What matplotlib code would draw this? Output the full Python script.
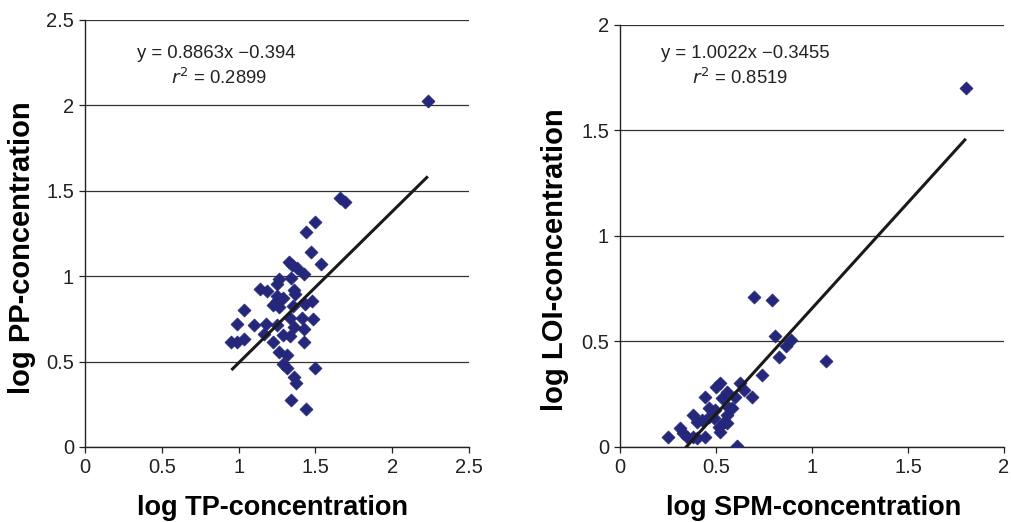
import matplotlib
matplotlib.use("Agg")
import matplotlib.pyplot as plt
import numpy as np

plt.rcParams['font.family'] = ['Liberation Sans', 'DejaVu Sans']

# ---- Left panel data: log TP vs log PP ----
tp_x = [1.658, 1.690, 1.500, 1.436, 1.469, 1.534, 1.330, 1.350, 1.377, 1.423,
        1.338, 1.266, 1.253, 1.136, 1.188, 1.358, 1.364, 1.253, 1.286, 1.247,
        1.475, 1.430, 1.227, 1.266, 1.351, 1.038, 1.332, 1.410, 1.482, 0.992,
        1.103, 1.181, 1.247, 1.358, 1.423, 1.168, 1.286, 1.332, 0.953, 0.992,
        1.038, 1.227, 1.423, 1.266, 1.312, 1.286, 1.312, 1.500, 1.358, 1.371,
        1.338, 1.436, 2.232]
pp_y = [1.457, 1.433, 1.317, 1.259, 1.142, 1.072, 1.084, 1.066, 1.049, 1.014,
        0.991, 0.985, 0.956, 0.927, 0.915, 0.921, 0.897, 0.886, 0.874, 0.857,
        0.857, 0.839, 0.833, 0.822, 0.828, 0.804, 0.758, 0.758, 0.752, 0.723,
        0.717, 0.723, 0.717, 0.705, 0.688, 0.664, 0.658, 0.647, 0.612, 0.612,
        0.635, 0.612, 0.612, 0.554, 0.536, 0.484, 0.460, 0.460, 0.408, 0.373,
        0.274, 0.221, 2.028]
left_slope, left_icept = 0.8863, -0.394

# ---- Right panel data: log SPM vs log LOI ----
spm_x = [0.700, 0.789, 0.806, 0.862, 0.888, 0.827, 1.072, 0.737, 0.499, 0.522,
         0.627, 0.644, 0.557, 0.688, 0.600, 0.443, 0.530, 0.565, 0.583, 0.461,
         0.496, 0.382, 0.557, 0.461, 0.487, 0.400, 0.426, 0.539, 0.557, 0.513,
         0.522, 0.313, 0.330, 0.347, 0.382, 0.400, 0.443, 0.248, 0.609, 1.801]
loi_y = [0.708, 0.698, 0.525, 0.478, 0.506, 0.427, 0.407, 0.340, 0.285, 0.301,
         0.304, 0.270, 0.262, 0.238, 0.235, 0.238, 0.230, 0.183, 0.183, 0.183,
         0.175, 0.151, 0.151, 0.143, 0.136, 0.120, 0.128, 0.120, 0.112, 0.096,
         0.072, 0.088, 0.065, 0.049, 0.049, 0.041, 0.046, 0.046, 0.006, 1.702]
right_slope, right_icept = 1.0022, -0.3455

left_xticks = [0, 0.5, 1, 1.5, 2, 2.5]
left_yticks = [0, 0.5, 1, 1.5, 2, 2.5]
right_xticks = [0, 0.5, 1, 1.5, 2]
right_yticks = [0, 0.5, 1, 1.5, 2]

MARKER_COLOR = '#24277a'

fig = plt.figure(figsize=(10.11, 5.22), dpi=100)
axL = fig.add_axes([0.0841, 0.1437, 0.3798, 0.818])
axR = fig.add_axes([0.6133, 0.1437, 0.3798, 0.809])


def style(ax, xt, yt, xlabel, ylabel, xlab_pos, ylab_pos):
    ax.set_xlim(xt[0], xt[-1])
    ax.set_ylim(yt[0], yt[-1])
    ax.set_xticks(xt)
    ax.set_yticks(yt)
    ax.set_xticklabels([f'{v:g}' for v in xt])
    ax.set_yticklabels([f'{v:g}' for v in yt])
    for s in ['top', 'right']:
        ax.spines[s].set_visible(False)
    for s in ['left', 'bottom']:
        ax.spines[s].set_color('#222222')
        ax.spines[s].set_linewidth(1.0)
    ax.yaxis.grid(True, color='#333333', linewidth=0.9)
    ax.set_axisbelow(True)
    ax.tick_params(axis='both', direction='out', length=4, width=0.9,
                   labelsize=14.5, colors='#222222', pad=4)
    ax.set_xlabel(xlabel, fontsize=19.5, fontweight='bold', va='center')
    ax.set_ylabel(ylabel, fontsize=21, fontweight='bold', va='center')
    ax.xaxis.set_label_coords(*xlab_pos)
    ax.yaxis.set_label_coords(*ylab_pos)


def panel(ax, x, y, slope, icept):
    ax.scatter(x, y, marker='D', s=44, color=MARKER_COLOR,
               edgecolors=MARKER_COLOR, linewidths=0.5, zorder=3)
    xs = np.array([min(x), max(x)])
    ax.plot(xs, slope * xs + icept, color='#1a1a1a', linewidth=2.2, zorder=4,
            solid_capstyle='butt')


panel(axL, tp_x, pp_y, left_slope, left_icept)
panel(axR, spm_x, loi_y, right_slope, right_icept)

style(axL, left_xticks, left_yticks, 'log TP-concentration', 'log PP-concentration',
      (0.487, -0.143), (-0.164, 0.466))
style(axR, right_xticks, right_yticks, 'log SPM-concentration', 'log LOI-concentration',
      (0.503, -0.144), (-0.169, 0.443))


def fig_text(px, py, s, **kw):
    fig.text(px / 1011, 1 - py / 522, s, fontsize=13.3, color='#222222',
             va='center', ha='left', **kw)

fig_text(137, 53, 'y = 0.8863x \u22120.394')
fig_text(171, 78, r'$\mathit{r}^{2}$ = 0.2899')
fig_text(661, 54, 'y = 1.0022x \u22120.3455')
fig_text(692, 78, r'$\mathit{r}^{2}$ = 0.8519')

fig.savefig('out.png', dpi=100)
